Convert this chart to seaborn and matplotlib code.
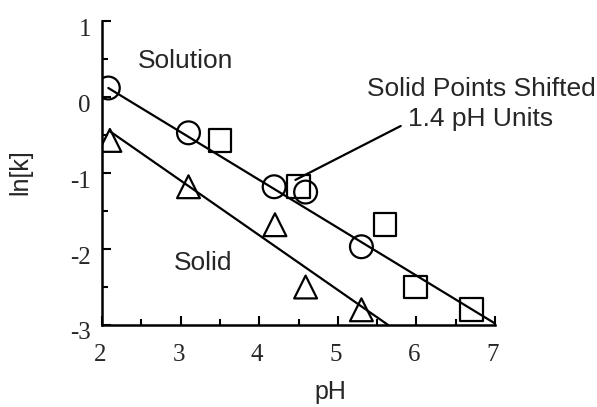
import matplotlib
matplotlib.use("Agg")
import matplotlib.pyplot as plt
import matplotlib.transforms as mtransforms
import seaborn as sns
import pandas as pd
from matplotlib.ticker import MultipleLocator

# Rate constants versus pH
solution_ph = [2.08, 3.10, 4.19, 4.59, 5.30]
solution_lnk = [0.12, -0.47, -1.18, -1.25, -1.97]

solid_ph = [2.10, 3.10, 4.20, 4.59, 5.30]
solid_lnk = [-0.57, -1.18, -1.68, -2.50, -2.80]

ph_shift = 1.4
shifted_ph = [p + ph_shift for p in solid_ph]
shifted_lnk = solid_lnk

# Straight-line fits (endpoints)
solution_fit_ph = [2.08, 7.00]
solution_fit_lnk = [0.12, -2.98]
solid_fit_ph = [2.10, 5.64]
solid_fit_lnk = [-0.45, -3.00]

x_ticks = [2, 3, 4, 5, 6, 7]
y_ticks = [-3, -2, -1, 0, 1]

sns.set_style("ticks")
plt.rcParams["font.family"] = ["Liberation Sans", "DejaVu Sans"]

fig = plt.figure(figsize=(5.97, 4.07), dpi=100)
ax = fig.add_axes([0.1709, 0.2015, 0.6583, 0.7465])

fits = pd.DataFrame({
    "pH": solution_fit_ph + solid_fit_ph,
    "lnk": solution_fit_lnk + solid_fit_lnk,
    "set": ["solution"] * 2 + ["solid"] * 2,
})
sns.lineplot(data=fits, x="pH", y="lnk", units="set", estimator=None,
             color="black", lw=1.6, ax=ax, sort=False)

mk = dict(s=270, facecolor="none", edgecolor="black", linewidth=1.6, ax=ax, zorder=3)
sns.scatterplot(x=solution_ph, y=solution_lnk, marker="o", **mk)
sns.scatterplot(x=solid_ph, y=solid_lnk, marker="^", **mk)
sns.scatterplot(x=shifted_ph, y=shifted_lnk, marker="s", **mk)

ax.set_xlim(2, 7)
ax.set_ylim(-3, 1)
ax.set_xticks(x_ticks)
ax.set_yticks(y_ticks)
ax.xaxis.set_minor_locator(MultipleLocator(0.5))
ax.yaxis.set_minor_locator(MultipleLocator(0.5))
ax.set_xticklabels([str(t) for t in x_ticks], family="Liberation Serif", fontsize=18)
ax.set_yticklabels([str(t) for t in y_ticks], family="Liberation Serif", fontsize=18)
ax.tick_params(which="both", direction="in", bottom=True, left=True,
               top=False, right=False, width=1.5, color="black")
ax.tick_params(which="major", length=6.5)
ax.tick_params(which="minor", length=4.3)
ax.tick_params(axis="x", which="major", pad=14)
ax.tick_params(axis="y", which="major", pad=8)

# y tick labels sit slightly below their ticks
shift_down = mtransforms.ScaledTranslation(0, -6 / 100, fig.dpi_scale_trans)
for lbl in ax.get_yticklabels():
    lbl.set_transform(lbl.get_transform() + shift_down)
shift_left = mtransforms.ScaledTranslation(-2 / 100, 0, fig.dpi_scale_trans)
for lbl in ax.get_xticklabels():
    lbl.set_transform(lbl.get_transform() + shift_left)

for side in ("top", "right"):
    ax.spines[side].set_visible(False)
for side in ("left", "bottom"):
    ax.spines[side].set_linewidth(1.8)
    ax.spines[side].set_color("black")

ax.set_xlabel("pH", fontsize=18)
ax.xaxis.set_label_coords(0.58, -0.18)
ax.set_ylabel("ln[k]", fontsize=18)
ax.yaxis.set_label_coords(-0.176, 0.503)

ax.text(3.06, 0.38, "Solution", fontsize=19, ha="center", va="baseline")
ax.text(3.29, -2.28, "Solid", fontsize=19, ha="center", va="baseline")
ax.text(6.82, -0.09, "Solid Points Shifted\n1.4 pH Units", fontsize=19,
        ha="center", va="center", linespacing=1.32, clip_on=False)
ax.annotate("", xy=(4.46, -1.09), xytext=(5.80, -0.38),
            arrowprops=dict(arrowstyle="-", color="black", lw=1.6,
                            shrinkA=0, shrinkB=0))

fig.savefig("out.png", dpi=100, facecolor="white")
